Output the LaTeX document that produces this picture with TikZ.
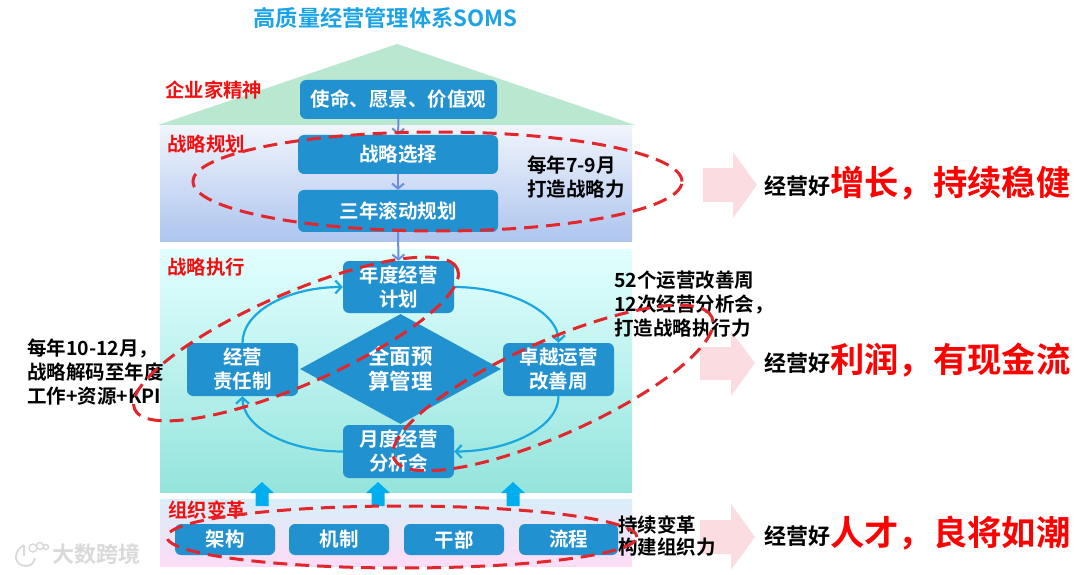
\documentclass[tikz,border=0pt]{standalone}
\usepackage{fontspec}
\setmainfont{Noto Sans CJK SC}[BoldFont={Noto Sans CJK SC Bold}]
\usetikzlibrary{arrows.meta,shapes.geometric}
\definecolor{boxblue}{HTML}{2291CF}
\definecolor{ringred}{HTML}{E3262B}
\definecolor{labelred}{HTML}{F01010}
\definecolor{cyc}{HTML}{1AA7E0}
\definecolor{flow}{HTML}{6C8EDB}
\definecolor{pinkarrow}{HTML}{FBDDE1}
\definecolor{titleblue}{HTML}{1BA3E5}
\definecolor{roofgreen}{HTML}{B9E7CF}
\definecolor{upblue}{HTML}{00AEEF}
\newcommand{\fs}[2]{\fontsize{#1}{#2}\selectfont}
\tikzset{
  x=1pt,y=-1pt,
  box/.style={fill=boxblue,rounded corners=6pt,text=white,inner sep=0pt,align=center,font=\fs{19.5}{24}\bfseries},
  lab/.style={text=labelred,inner sep=0pt,font=\fs{19.4}{22}\bfseries},
  note/.style={text=black,inner sep=0pt,align=left,font=\fs{19.5}{24}\bfseries},
  good/.style={text=black,inner sep=0pt,font=\fs{22}{24}\bfseries},
  big/.style={text=red,inner sep=0pt,font=\fs{34.3}{36}\bfseries},
  flowarrow/.style={draw=flow,line width=2pt,-{Straight Barb[length=5pt,width=12pt]}},
  cyclearrow/.style={draw=cyc,line width=2.2pt,-{Straight Barb[length=6pt,width=13pt]}},
  ring/.style={ellipse,draw=ringred,line width=3pt,dash pattern=on 14pt off 8pt,inner sep=0pt},
  pink/.style={fill=pinkarrow},
  upshape/.style={fill=upblue},
}
\begin{document}
\begin{tikzpicture}
\useasboundingbox (0,0) rectangle (1080,575);
% roof and bands
\fill[roofgreen] (397,44) -- (635,125) -- (158,125) -- cycle;
\shade[top color={rgb,255:red,240;green,244;blue,252},bottom color={rgb,255:red,174;green,197;blue,238}] (160,126) rectangle (632,241);
\shade[top color={rgb,255:red,226;green,255;blue,255},bottom color={rgb,255:red,148;green,228;blue,220}] (160,249) rectangle (632,492);
\shade[top color={rgb,255:red,216;green,238;blue,248},middle color={rgb,255:red,252;green,238;blue,222},bottom color={rgb,255:red,252;green,220;blue,246}] (160,499) rectangle (632,566);
% up arrows
\foreach \c in {262,378,513}{
  \fill[upshape] (\c-12,493) -- (\c,482) -- (\c+12,493) -- (\c+6.5,493) -- (\c+6.5,506) -- (\c-6.5,506) -- (\c-6.5,493) -- cycle;
}
% pink arrows
\fill[pink] (703,168) -- (733,168) -- (733,152) -- (757,185) -- (733,218) -- (733,202) -- (703,202) -- cycle;
\fill[pink] (700,347) -- (731,347) -- (731,331) -- (755,363) -- (731,396) -- (731,380) -- (700,380) -- cycle;
\fill[pink] (700,520) -- (731,520) -- (731,504) -- (755,537) -- (731,570) -- (731,554) -- (700,554) -- cycle;
% boxes
\node[box,minimum width=197,minimum height=39] (mission) at (398.5,99.5) {使命、愿景、价值观};
\node[box,minimum width=200,minimum height=39] (choice) at (398,154.5) {战略选择};
\node[box,minimum width=200,minimum height=42] (plan) at (398,211) {三年滚动规划};
\node[box,minimum width=111,minimum height=52] (annual) at (398.5,287) {年度经营\\计划};
\node[box,minimum width=111,minimum height=53] (monthly) at (398.5,451.5) {月度经营\\分析会};
\node[box,minimum width=111,minimum height=53] (resp) at (242.5,369.5) {经营\\责任制};
\node[box,minimum width=111,minimum height=53] (excel) at (558.5,369.5) {卓越运营\\改善周};
\node[diamond,fill=boxblue,aspect=1.83,minimum width=201,minimum height=110,inner sep=0pt,text=white,align=center,font=\fs{21.5}{25}\bfseries] (budget) at (400.5,369) {全面预\\算管理};
\node[box,minimum width=100,minimum height=31] (org1) at (225,539.5) {架构};
\node[box,minimum width=100,minimum height=31] (org2) at (339,539.5) {机制};
\node[box,minimum width=100,minimum height=31] (org3) at (454,539.5) {干部};
\node[box,minimum width=99,minimum height=31] (org4) at (568.5,539.5) {流程};
% connectors
\draw[flowarrow] (mission.south) -- (choice.north);
\draw[flowarrow] (choice.south) -- (plan.north);
\draw[flowarrow] (plan.south) -- (annual.north);
\draw[cyclearrow] (resp.north) .. controls +(0,-31) and +(-55,0) .. (annual.west);
\draw[cyclearrow] (annual.east) .. controls +(55,0) and +(0,-31) .. (excel.north);
\draw[cyclearrow] (excel.south) .. controls +(0,31) and +(55,0) .. (monthly.east);
\draw[cyclearrow] (monthly.west) .. controls +(-55,0) and +(0,31) .. (resp.south);
% texts
\node[anchor=center,inner sep=0pt,text=titleblue,font=\fs{22.2}{24}\bfseries] (title) at (385.5,18) {高质量经营管理体系SOMS};
\node[lab,anchor=west] (l1) at (165,90) {企业家精神};
\node[lab,anchor=west] (l2) at (167,144) {战略规划};
\node[lab,anchor=west] (l3) at (167,267) {战略执行};
\node[lab,anchor=west] (l4) at (168,510) {组织变革};
\node[note,anchor=west] (n1) at (527,177.5) {每年7-9月\\打造战略力};
\node[note,anchor=west] (n2) at (614,304) {52个运营改善周\\12次经营分析会，\\打造战略执行力};
\node[note,anchor=west] (n3) at (27,372) {每年10-12月，\\战略解码至年度\\工作+资源+KPI};
\node[note,anchor=west,font=\fs{19.5}{22.5}\bfseries] (n4) at (618,536) {持续变革\\构建组织力};
\node[good,anchor=west] (g1) at (764,186) {经营好};
\node[good,anchor=west] (g2) at (764,363) {经营好};
\node[good,anchor=west] (g3) at (764,536) {经营好};
\node[big,anchor=west] (b1) at (830,183) {增长，持续稳健};
\node[big,anchor=west] (b2) at (830,360) {利润，有现金流};
\node[big,anchor=west] (b3) at (830,533) {人才，良将如潮};
% rings
\node[ring,minimum width=489,minimum height=99] (r1) at (437.5,181.5) {};
\node[ring,rotate=23.5,minimum width=352,minimum height=92] (r2) at (296,339) {};
\node[ring,rotate=24,minimum width=348,minimum height=94] (r3) at (553,388) {};
\node[ring,minimum width=470,minimum height=62] (r4) at (402,537) {};
% watermark
\node[inner sep=0pt,anchor=west,text=black!15,font=\fs{22}{24}\bfseries] (wm) at (52,554) {大数跨境};
\draw[black!15,line width=1.8pt] (24,545) .. controls (12,552) and (14,566) .. (26,566) .. controls (32,566) and (34,562) .. (35,558);
\draw[black!15,line width=1.8pt] (24,545) -- (24,556);
\draw[black!15,line width=1.4pt] (33,548) circle (4) (40,546) circle (3.5) (46,547) circle (2.5);
\end{tikzpicture}
\end{document}
